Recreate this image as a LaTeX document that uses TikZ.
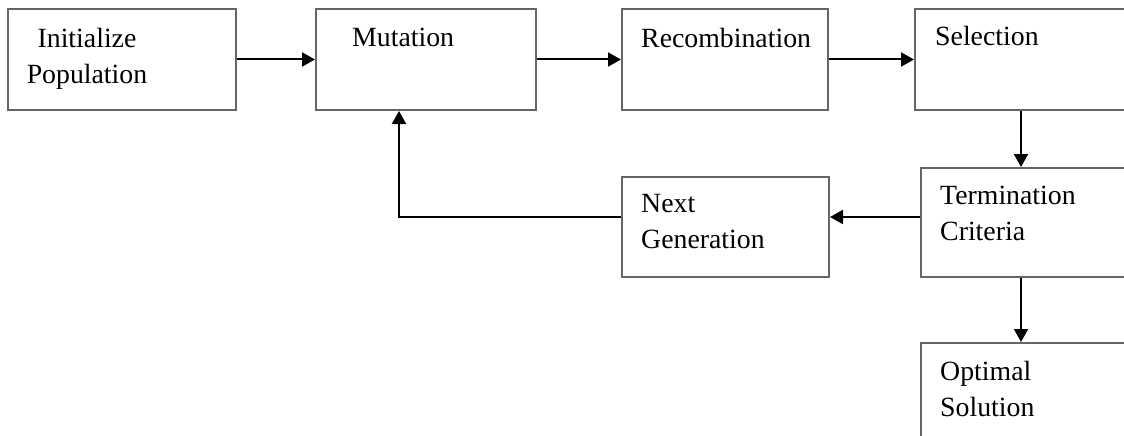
\documentclass[tikz,border=0pt]{standalone}
\usepackage{fontspec}
\setmainfont{Liberation Serif}
\usetikzlibrary{arrows.meta}

\begin{document}
\begin{tikzpicture}[x=1pt,y=-1pt,line join=miter,
        box/.style={draw=black!60, line width=2pt, inner sep=0pt, minimum height=101pt},
        txt/.style={anchor=north west, inner sep=0pt, align=left, font=\fontsize{27.8}{36}\selectfont},
        arr/.style={-{Triangle[length=13pt,width=14pt]}, line width=2pt}]
        \useasboundingbox (0,0) rectangle (1124,436);
        \clip (0,0) rectangle (1124,436);

        % boxes
        \node[box, minimum width=228pt] (init) at (122,59.5) {};
        \node[box, minimum width=220pt] (mut) at (426,59.5) {};
        \node[box, minimum width=206pt] (rec) at (725,59.5) {};
        \node[box, minimum width=240pt] (sel) at (1035,59.5) {};
        \node[box, minimum width=240pt, minimum height=109pt] (term) at (1041,222.5) {};
        \node[box, minimum width=207pt, minimum height=100pt] (next) at (725.5,227) {};
        \node[box, minimum width=240pt] (opt) at (1041,393.5) {};

        % texts
        \node[txt, anchor=north, align=center] (init-t) at ([shift={(80,20)}]init.north west) {Initialize\\Population};
        \node[txt] (mut-t) at ([shift={(37,20)}]mut.north west) {Mutation};
        \node[txt] (rec-t) at ([shift={(20,20)}]rec.north west) {Recombination};
        \node[txt] (sel-t) at ([shift={(21,18.5)}]sel.north west) {Selection};
        \node[txt] (term-t) at ([shift={(20,19)}]term.north west) {Termination\\Criteria};
        \node[txt] (next-t) at ([shift={(20,18)}]next.north west) {Next\\Generation};
        \node[txt] (opt-t) at ([shift={(20,19.5)}]opt.north west) {Optimal\\Solution};

        % connectors
        \coordinate (drop) at (1021,0);
        \coordinate (back) at (399,217);
        \draw[arr] (init) -- (mut);
        \draw[arr] (mut) -- (rec);
        \draw[arr] (rec) -- (sel);
        \draw[arr] (sel.south -| drop) -- (term.north -| drop);
        \draw[arr] (term.south -| drop) -- (opt.north -| drop);
        \draw[arr] (term.west |- back) -- (next.east |- back);
        \draw[arr] (next.west |- back) -| (mut.south -| back);
    \end{tikzpicture}
\end{document}
